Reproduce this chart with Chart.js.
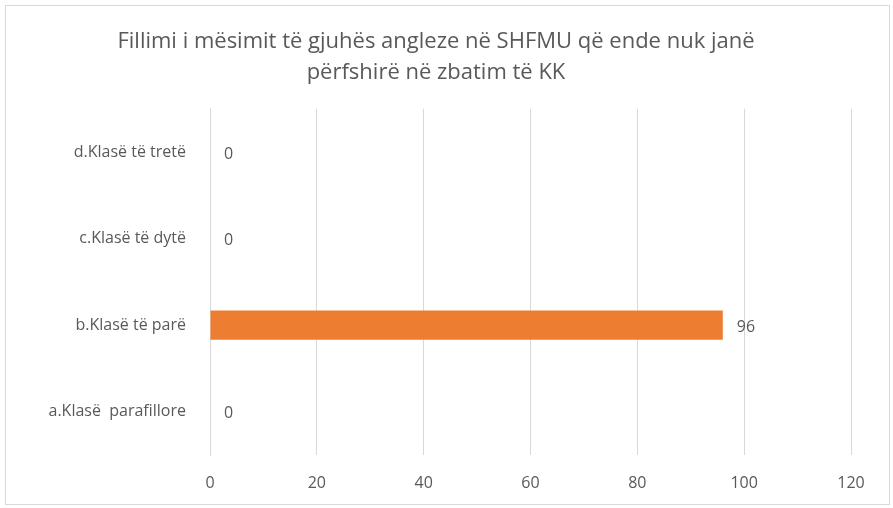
<!DOCTYPE html>
<html>
<head>
<meta charset="utf-8">
<script src="https://cdn.jsdelivr.net/npm/chart.js@4/dist/chart.umd.min.js"></script>
<style>
  html, body { margin: 0; padding: 0; background: #fff; }
  #wrap { width: 893px; height: 508px; position: relative; }
</style>
</head>
<body>
<div id="wrap"><canvas id="chart" width="893" height="508"></canvas></div>
<script>
// chart data
const categories = ["d.Klasë të tretë", "c.Klasë të dytë", "b.Klasë të parë", "a.Klasë  parafillore"]
const values = [0, 0, 96, 0]
const titleLines = ["Fillimi i mësimit të gjuhës angleze në SHFMU që ende nuk janë", "përfshirë në zbatim të KK"]
const xTicks = [0, 20, 40, 60, 80, 100, 120]

const FONT = "'Open Sans', 'Noto Sans', sans-serif"
const GREY = "#595959"

// outer frame like the office chart box
const frame = {
  id: "frame",
  beforeDraw(chart) {
    let ctx = chart.ctx
    ctx.save()
    ctx.fillStyle = "#fff"
    ctx.fillRect(0, 0, chart.width, chart.height)
    ctx.strokeStyle = "#d9d9d9"
    ctx.lineWidth = 1
    ctx.strokeRect(5.5, 5.5, chart.width - 9, chart.height - 9)
    ctx.restore()
  }
}

// value labels at the end of each bar
const valueLabels = {
  id: "valueLabels",
  afterDatasetsDraw(chart) {
    let ctx = chart.ctx
    let meta = chart.getDatasetMeta(0)
    ctx.save()
    ctx.font = "16px " + FONT
    ctx.fillStyle = GREY
    ctx.textBaseline = "middle"
    ctx.textAlign = "left"
    meta.data.forEach((bar, i) => {
      ctx.fillText(String(values[i]), bar.x + 14, bar.y + 2)
    })
    ctx.restore()
  }
}

let ctx = document.getElementById("chart").getContext("2d")
new Chart(ctx, {
  type: "bar",
  data: {
    labels: categories,
    datasets: [{
      data: values,
      backgroundColor: "#ed7d31",
      borderWidth: 0,
      categoryPercentage: 1,
      barPercentage: 0.34
    }]
  },
  options: {
    indexAxis: "y",
    responsive: false,
    animation: false,
    layout: { padding: { left: 21, right: 42, top: 0, bottom: 0 } },
    plugins: {
      legend: { display: false },
      tooltip: { enabled: false },
      title: {
        display: true,
        text: titleLines,
        color: GREY,
        font: { family: FONT, size: 22, weight: "normal", lineHeight: 1.38 },
        padding: { top: 27, bottom: 21 }
      }
    },
    scales: {
      x: {
        min: 0,
        max: 120,
        afterBuildTicks(scale) { scale.ticks = xTicks.map(v => ({ value: v })) },
        grid: { color: "#d9d9d9", drawTicks: false },
        border: { display: false },
        ticks: { color: GREY, padding: 19, font: { family: FONT, size: 16 } },
        afterFit(scale) { scale.height = 53 }
      },
      y: {
        grid: { display: false },
        border: { color: "#d9d9d9" },
        ticks: { color: GREY, padding: 16, font: { family: FONT, size: 16 } },
        afterFit(scale) { scale.width = 189 }
      }
    }
  },
  plugins: [frame, valueLabels]
})
</script>
</body>
</html>
